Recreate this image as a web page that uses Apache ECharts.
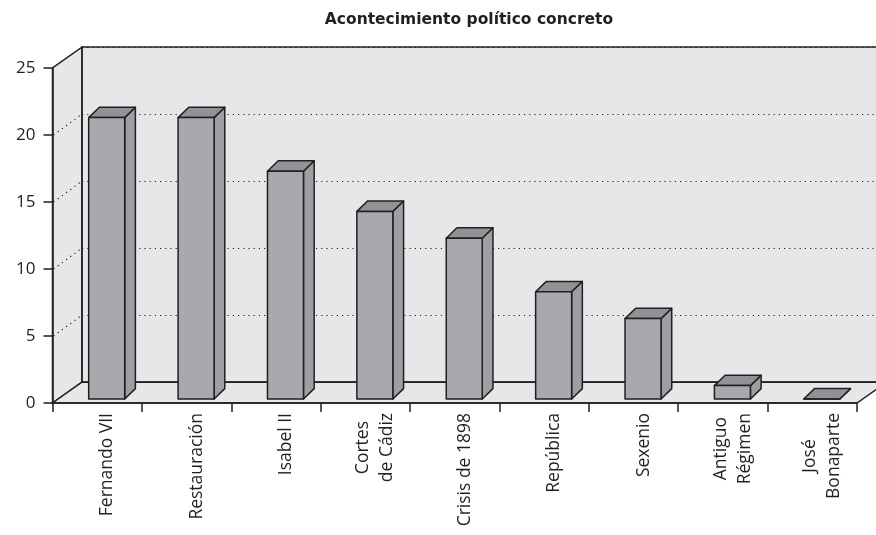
<!DOCTYPE html>
<html>
<head>
<meta charset="utf-8">
<script src="https://cdn.jsdelivr.net/npm/echarts@6/dist/echarts.min.js"></script>
<style>
  html, body { margin: 0; padding: 0; background: #fff; }
  #chart { width: 876px; height: 535px; }
</style>
</head>
<body>
<div id="chart"></div>
<script>
// data
const categories = ['Fernando VII', 'Restauración', 'Isabel II', 'Cortes\nde Cádiz', 'Crisis de 1898', 'República', 'Sexenio', 'Antiguo\nRégimen', 'José\nBonaparte']
const values = [21, 21, 17, 14, 12, 8, 6, 1, 0]
const yTicks = [0, 5, 10, 15, 20, 25]
const titleText = 'Acontecimiento político concreto'

// 3d look
const DEPTH_X = 29.4
const DEPTH_Y = -20.8
const BAR_W = 36
const BAR_SHIFT = 9.5
const BAR_FRONT_Y = -4
const BAR_DX = 10.7
const BAR_DY = -10.4
const INK = '#231f20'
const WALL = '#e6e7e8'

const yMin = yTicks[0]
const yMax = yTicks[yTicks.length - 1]
const yStep = yTicks[1] - yTicks[0]

const chart = echarts.init(document.getElementById('chart'), null, { renderer: 'canvas' })

function renderFrame(params, api) {
  const bw = api.size([1, 0])[0]
  const x0 = api.coord([0, yMin])[0] - bw / 2
  const x1 = api.coord([categories.length - 1, yMin])[0] + bw / 2
  const yb = api.coord([0, yMin])[1]
  const yt = api.coord([0, yMax])[1]
  const line = { stroke: INK, lineWidth: 1.5, fill: WALL }
  const children = [
    { type: 'rect', shape: { x: x0 + DEPTH_X, y: yt + DEPTH_Y, width: 1000, height: yb - yt }, style: { fill: WALL } },
    { type: 'polygon', shape: { points: [[x0, yb], [x0, yt], [x0 + DEPTH_X, yt + DEPTH_Y], [x0 + DEPTH_X, yb + DEPTH_Y]] }, style: line },
    { type: 'polygon', shape: { points: [[x0, yb], [x1, yb], [x1 + DEPTH_X, yb + DEPTH_Y], [x0 + DEPTH_X, yb + DEPTH_Y]] }, style: line }
  ]
  yTicks.slice(1, -1).forEach(t => {
    const y = api.coord([0, t])[1]
    children.push({
      type: 'line',
      shape: { x1: x0 + 1, y1: y, x2: x0 + DEPTH_X, y2: y + DEPTH_Y },
      style: { stroke: INK, lineWidth: 1.2, lineDash: [1.2, 4] }
    })
  })
  return { type: 'group', children }
}

function renderBar(params, api) {
  const i = api.value(0)
  const top = api.coord([i, api.value(1)])
  const base = api.coord([i, 0])
  const l = top[0] + BAR_SHIFT - BAR_W / 2
  const r = l + BAR_W
  const t = top[1] + BAR_FRONT_Y
  const b = base[1] + BAR_FRONT_Y
  const st = { stroke: INK, lineWidth: 1.5, lineJoin: 'round' }
  return {
    type: 'group',
    children: [
      { type: 'polygon', shape: { points: [[r, t], [r + BAR_DX, t + BAR_DY], [r + BAR_DX, b + BAR_DY], [r, b]] }, style: Object.assign({ fill: '#9d9fa2' }, st) },
      { type: 'polygon', shape: { points: [[l, t], [r, t], [r + BAR_DX, t + BAR_DY], [l + BAR_DX, t + BAR_DY]] }, style: Object.assign({ fill: '#909295' }, st) },
      { type: 'rect', shape: { x: l, y: t, width: BAR_W, height: b - t }, style: Object.assign({ fill: '#a7a9ac' }, st) }
    ]
  }
}

const labelRich = { c: { align: 'center', fontSize: 17.5, fontFamily: 'Open Sans', color: INK, lineHeight: 24 } }

chart.setOption({
  animation: false,
  textStyle: { fontFamily: 'Open Sans' },
  title: {
    text: titleText,
    left: 464,
    top: 7,
    textAlign: 'center',
    textStyle: { fontSize: 15.5, fontWeight: 'bold', color: INK, fontFamily: 'DejaVu Sans' }
  },
  grid: [
    { left: 52.5, right: 19, top: 68, bottom: 132 },
    { left: 82, right: -30, top: 47.2, bottom: 152.8 }
  ],
  xAxis: [
    {
      type: 'category',
      gridIndex: 0,
      data: categories,
      z: 4,
      axisLine: { lineStyle: { color: INK, width: 1.5 } },
      axisTick: { show: true, length: 9, lineStyle: { color: INK, width: 1.5 } },
      axisLabel: {
        rotate: 90,
        margin: 10,
        interval: 0,
        fontSize: 17.5,
        color: INK,
        padding: [20, 0, 0, 0],
        formatter: v => v.split('\n').map(s => '{c|' + s + '}').join('\n'),
        rich: labelRich
      },
      splitLine: { show: false }
    },
    {
      type: 'value', gridIndex: 1, position: 'bottom', z: 2,
      axisLine: { show: true, onZero: false, lineStyle: { color: INK, width: 1.5 } },
      axisTick: { show: false }, axisLabel: { show: false }, splitLine: { show: false }
    },
    {
      type: 'value', gridIndex: 1, position: 'top', z: 2,
      axisLine: { show: true, onZero: false, lineStyle: { color: INK, width: 1.5 } },
      axisTick: { show: false }, axisLabel: { show: false }, splitLine: { show: false }
    }
  ],
  yAxis: [
    {
      type: 'value',
      gridIndex: 0,
      min: yMin,
      max: yMax,
      interval: yStep,
      z: 4,
      axisLine: { show: true, lineStyle: { color: INK, width: 1.5 } },
      axisTick: { show: true, length: 9, lineStyle: { color: INK, width: 1.5 } },
      axisLabel: { fontSize: 17, color: INK, margin: 17, fontFamily: 'Open Sans' },
      splitLine: { show: false }
    },
    {
      type: 'value',
      gridIndex: 1,
      min: yMin,
      max: yMax,
      interval: yStep,
      z: 2,
      axisLine: { show: true, lineStyle: { color: INK, width: 1.5 } },
      axisTick: { show: false },
      axisLabel: { show: false },
      splitLine: { show: true, lineStyle: { color: INK, width: 1.2, type: [1.2, 4] } }
    }
  ],
  series: [
    {
      type: 'custom',
      name: 'frame',
      xAxisIndex: 0,
      yAxisIndex: 0,
      z: 1,
      silent: true,
      renderItem: renderFrame,
      data: [[0, 0]]
    },
    {
      type: 'custom',
      name: 'Acontecimiento',
      xAxisIndex: 0,
      yAxisIndex: 0,
      z: 3,
      renderItem: renderBar,
      encode: { x: 0, y: 1 },
      data: values.map((v, i) => [i, v])
    }
  ]
})
</script>
</body>
</html>
